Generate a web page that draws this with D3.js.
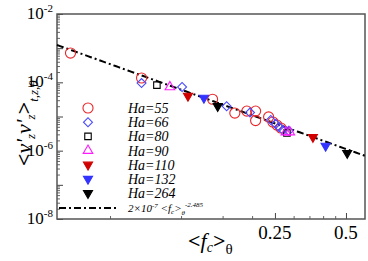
<!DOCTYPE html>
<html>
<head>
<meta charset="utf-8">
<script src="https://cdn.jsdelivr.net/npm/d3@7"></script>
<style>
  body { margin: 0; background: #fff; }
</style>
</head>
<body>
<div id="chart"></div>
<script>
// series: [<f_c>, <v'v'>]
const seriesNames = ["Ha=55", "Ha=66", "Ha=80", "Ha=90", "Ha=110", "Ha=132", "Ha=264"]
const ha55 = [[0.034, 7.2e-4], [0.068, 1.34e-4], [0.136, 3.2e-5], [0.169, 1.26e-5], [0.19, 1.44e-5],
              [0.207, 1.44e-5], [0.207, 7.6e-6], [0.235, 9.7e-6], [0.245, 6.9e-6], [0.255, 5.6e-6], [0.265, 4.6e-6]]
const ha66 = [[0.068, 9.5e-5], [0.101, 7.3e-5], [0.156, 2.0e-5], [0.196, 1.3e-5], [0.24, 7.9e-6],
              [0.252, 6.0e-6], [0.26, 4.9e-6], [0.27, 4.0e-6], [0.286, 3.8e-6]]
const ha80 = [[0.079, 8.3e-5], [0.281, 3.3e-6]]
const ha90 = [[0.0897, 7.3e-5], [0.278, 3.5e-6], [0.289, 3.5e-6]]
const ha110 = [[0.107, 4.0e-5], [0.362, 2.5e-6]]
const ha132 = [[0.125, 3.5e-5], [0.41, 1.38e-6]]
const ha264 = [[0.143, 2.0e-5], [0.506, 8.5e-7]]
const fitCoef = 2e-7
const fitExp = -2.485
const xLabelTicks = [0.25, 0.5]
const xMinorTicks = [0.05, 0.1, 0.15, 0.2, 0.3, 0.35, 0.4, 0.45]
const yLabelExps = [-2, -4, -6, -8]

const width = 368, height = 261
const margin = {top: 14, right: 3, bottom: 42, left: 57}
const W = width - margin.left - margin.right
const H = height - margin.top - margin.bottom
const serif = "'Liberation Serif', 'DejaVu Serif', 'Noto Serif', serif"

const svg = d3.select("#chart").append("svg")
    .attr("width", width)
    .attr("height", height)
    .style("font-family", serif)

const x = d3.scaleLog().domain([0.0298, 0.602]).range([0, W])
const y = d3.scaleLog().domain([1e-8, 1e-2]).range([H, 0])

const g = svg.append("g").attr("transform", `translate(${margin.left},${margin.top})`)

// y ticks (inside)
const yMajor = d3.range(-8, -1).map(e => Math.pow(10, e))
const yMinor = []
d3.range(-8, -2).forEach(e => { for (let k = 2; k <= 9; k++) yMinor.push(k * Math.pow(10, e)) })
g.append("g")
    .call(d3.axisLeft(y).tickValues(yMinor).tickSize(-3).tickFormat(""))
    .call(a => a.select(".domain").remove())
    .selectAll("line").attr("stroke", "#666")
g.append("g")
    .call(d3.axisLeft(y).tickValues(yMajor).tickSize(-6).tickFormat(""))
    .call(a => a.select(".domain").remove())
    .selectAll("line").attr("stroke", "#444")

// x ticks (inside)
g.append("g").attr("transform", `translate(0,${H})`)
    .call(d3.axisBottom(x).tickValues(xMinorTicks).tickSize(-3).tickFormat(""))
    .call(a => a.select(".domain").remove())
    .selectAll("line").attr("stroke", "#666")
g.append("g").attr("transform", `translate(0,${H})`)
    .call(d3.axisBottom(x).tickValues(xLabelTicks).tickSize(-6).tickFormat(""))
    .call(a => a.select(".domain").remove())
    .selectAll("line").attr("stroke", "#444")

// frame
g.append("rect").attr("width", W).attr("height", H)
    .attr("fill", "none").attr("stroke", "#555").attr("stroke-width", 1.5)

// tick labels
xLabelTicks.forEach(v => {
    g.append("text").attr("x", x(v)).attr("y", H + 20)
        .attr("text-anchor", "middle").style("font-size", "19px")
        .text(v)
})
yLabelExps.forEach(e => {
    const t = g.append("text").attr("x", -4).attr("y", y(Math.pow(10, e)) + 5)
        .attr("text-anchor", "end").style("font-size", "17px")
    t.append("tspan").text("10")
    t.append("tspan").attr("dy", -7).style("font-size", "11px").text(e)
})

// fit line
const fitX = d3.range(0, 101).map(i => x.invert(i * W / 100))
const line = d3.line().x(d => x(d)).y(d => y(fitCoef * Math.pow(d, fitExp)))
g.append("path").datum(fitX)
    .attr("d", line)
    .attr("fill", "none").attr("stroke", "#000").attr("stroke-width", 2)
    .attr("stroke-dasharray", "7,3,2,3")

// markers
const red = "#e8262a", blue = "#4a4aff", mag = "#ff1aff"
const styles = [
    {data: ha55, type: d3.symbolCircle, size: 80, rot: 0, fill: "none", stroke: red},
    {data: ha66, type: d3.symbolSquare, size: 40, rot: 45, fill: "none", stroke: blue},
    {data: ha80, type: d3.symbolSquare, size: 42, rot: 0, fill: "none", stroke: "#000"},
    {data: ha90, type: d3.symbolTriangle, size: 40, rot: 0, fill: "none", stroke: mag},
    {data: ha110, type: d3.symbolTriangle, size: 36, rot: 180, fill: "#d00000", stroke: "#d00000"},
    {data: ha132, type: d3.symbolTriangle, size: 36, rot: 180, fill: "#3333ff", stroke: "#3333ff"},
    {data: ha264, type: d3.symbolTriangle, size: 36, rot: 180, fill: "#000", stroke: "#000"}
]
styles.forEach(s => {
    g.append("g").selectAll("path")
        .data(s.data)
        .enter().append("path")
        .attr("d", d3.symbol().type(s.type).size(s.size))
        .attr("transform", d => `translate(${x(d[0])},${y(d[1])}) rotate(${s.rot})`)
        .attr("fill", s.fill).attr("stroke", s.stroke).attr("stroke-width", 1.1)
})

// legend
const legY0 = 108, legDy = 14.2
styles.forEach((s, i) => {
    const ly = legY0 + i * legDy
    svg.append("path")
        .attr("d", d3.symbol().type(s.type).size(s.size))
        .attr("transform", `translate(88,${ly}) rotate(${s.rot})`)
        .attr("fill", s.fill).attr("stroke", s.stroke).attr("stroke-width", 1.1)
    svg.append("text").attr("x", 128).attr("y", ly + 5)
        .style("font-size", "14px").style("font-style", "italic")
        .text(seriesNames[i])
})
const lineY = 208
svg.append("line").attr("x1", 59).attr("x2", 117).attr("y1", lineY).attr("y2", lineY)
    .attr("stroke", "#000").attr("stroke-width", 2).attr("stroke-dasharray", "7,3,2,3")
const ft = svg.append("text").attr("x", 128).attr("y", lineY + 4)
    .style("font-size", "11px").style("font-style", "italic")
ft.append("tspan").text("2×10")
ft.append("tspan").attr("dy", -4).style("font-size", "7px").text("-7")
ft.append("tspan").attr("dy", 4).text(" <f")
ft.append("tspan").attr("dy", 2).style("font-size", "7px").text("c")
ft.append("tspan").attr("dy", -2).text(">")
ft.append("tspan").attr("dy", 3).style("font-size", "7px").text("θ")
ft.append("tspan").attr("dy", -8).style("font-size", "7px").text("-2.485")

// x axis title
const xt = svg.append("text").attr("x", 188).attr("y", 248).style("font-size", "22px")
xt.append("tspan").style("font-weight", "bold").text("<")
xt.append("tspan").style("font-style", "italic").text("f")
xt.append("tspan").attr("dy", 4).style("font-size", "14px").style("font-style", "italic").text("c")
xt.append("tspan").attr("dy", -4).style("font-weight", "bold").text(">")
xt.append("tspan").attr("dy", 6).style("font-size", "15px").text("θ")

// y axis title
const yt = svg.append("text").attr("transform", "translate(31,166) rotate(-90)").style("font-size", "22px")
yt.append("tspan").style("font-weight", "bold").text("<")
yt.append("tspan").style("font-style", "italic").text("v'")
yt.append("tspan").attr("dy", 4).style("font-size", "13px").style("font-style", "italic").text("z")
yt.append("tspan").attr("dy", -4).style("font-style", "italic").text("v'")
yt.append("tspan").attr("dy", 4).style("font-size", "13px").style("font-style", "italic").text("z")
yt.append("tspan").attr("dy", -4).style("font-weight", "bold").text(">")
yt.append("tspan").attr("dy", 7).style("font-size", "13px").style("font-style", "italic").text("t,z,θ")
</script>
</body>
</html>
